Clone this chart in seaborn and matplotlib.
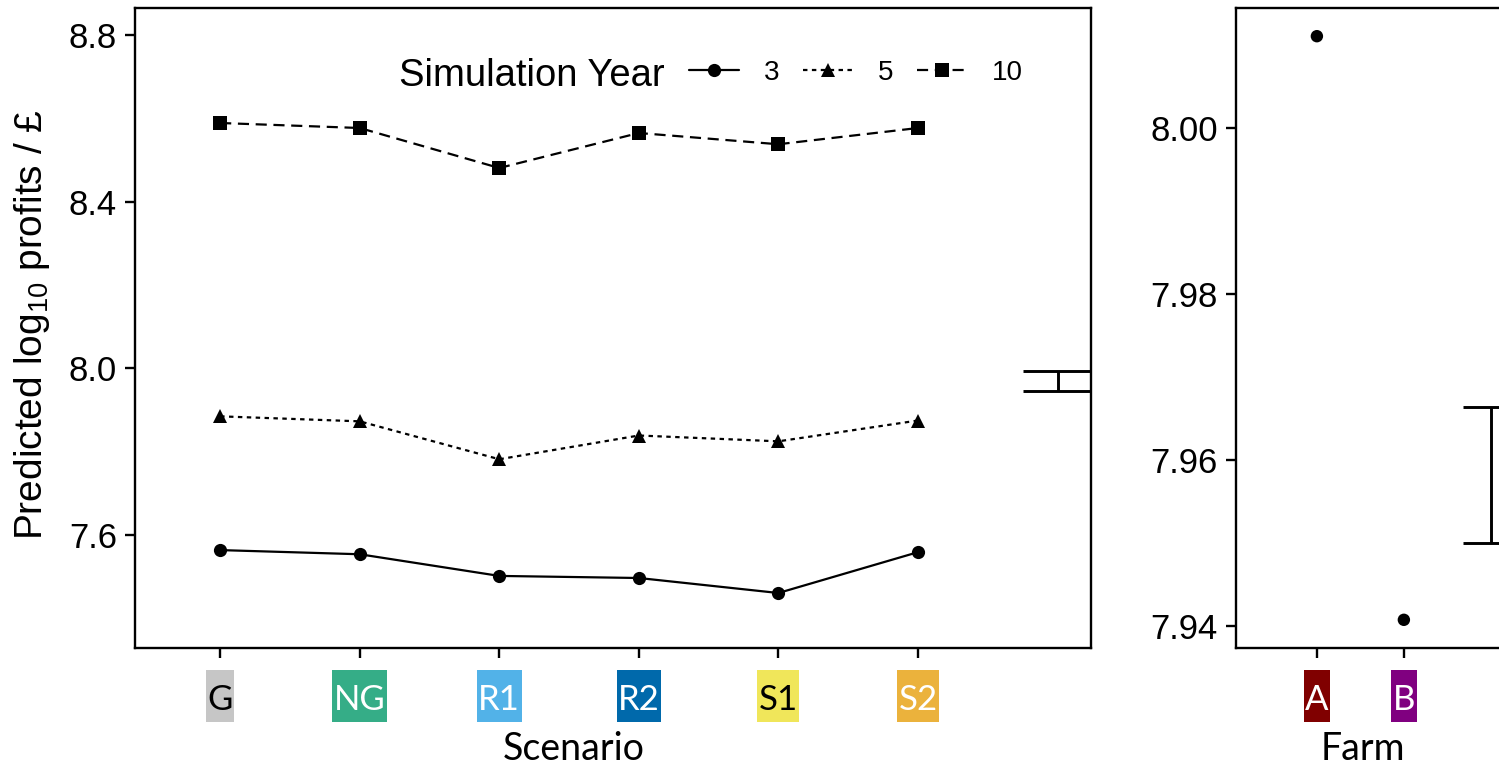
import numpy as np
import pandas as pd
import matplotlib
matplotlib.use("Agg")
import matplotlib.pyplot as plt
import seaborn as sns
from matplotlib.lines import Line2D
from matplotlib.path import Path

# Scenario panel data
scenarios = ["G", "NG", "R1", "R2", "S1", "S2"]
scenario_fill = ["#C6C6C6", "#35AD87", "#52B2E8", "#0069AB", "#F0E65A", "#EBB23C"]
scenario_ink = ["black", "white", "white", "white", "black", "white"]
years = ["3", "5", "10"]
profit_year3 = [7.564, 7.554, 7.502, 7.497, 7.461, 7.559]
profit_year5 = [7.885, 7.873, 7.782, 7.839, 7.825, 7.875]
profit_year10 = [8.589, 8.577, 8.481, 8.565, 8.538, 8.577]
scenario_err_low, scenario_err_high = 7.945, 7.995

# Farm panel data
farms = ["A", "B"]
farm_fill = ["#800000", "#800080"]
farm_ink = ["white", "white"]
farm_profit = [8.0111, 7.9407]
farm_err_low, farm_err_high = 7.950, 7.9664

sns.set_theme(style="white")
plt.rcParams["font.family"] = ["Liberation Sans", "DejaVu Sans"]
plt.rcParams["mathtext.fontset"] = "custom"
plt.rcParams["mathtext.rm"] = "Liberation Sans"
plt.rcParams["mathtext.it"] = "Liberation Sans:italic"
for key in ["text.color", "axes.labelcolor", "xtick.color", "ytick.color"]:
    plt.rcParams[key] = "black"

LABEL_FONT = ["Lato", "DejaVu Sans"]
W, H = 1499, 767
fig = plt.figure(figsize=(W / 100, H / 100), dpi=100)


def px_axes(left, right, top, bottom):
    return fig.add_axes([left / W, 1 - bottom / H, (right - left) / W, (bottom - top) / H])


ax1 = px_axes(135, 1091, 8, 648)
ax2 = px_axes(1236, 1570, 8, 648)


def tick_box(x0, y0, width, height, mutation_size):
    padx = 0.04 * mutation_size
    pad_bottom = 0.16 * mutation_size
    pad_top = 0.40 * mutation_size
    x0, x1 = x0 - padx, x0 + width + padx
    y0, y1 = y0 - pad_bottom, y0 + height + pad_top
    return Path([(x0, y0), (x1, y0), (x1, y1), (x0, y1), (x0, y0)], closed=True)


def style_axes(ax):
    for s in ax.spines.values():
        s.set_visible(True)
        s.set_color("black")
        s.set_linewidth(1.7)
    ax.tick_params(axis="both", direction="out", length=7, width=1.7, color="black",
                   bottom=True, left=True, labelsize=25, labelcolor="black")
    ax.tick_params(axis="y", pad=6)
    ax.tick_params(axis="x", pad=19)
    ax.grid(False)


def style_tick_labels(ax, fills, inks):
    for lab, bg, fg in zip(ax.get_xticklabels(), fills, inks):
        lab.set_fontfamily(LABEL_FONT)
        lab.set_fontsize(25)
        lab.set_color(fg)
        lab.set_bbox(dict(facecolor=bg, edgecolor="none", boxstyle=tick_box))


# Left panel: predicted profits per scenario and simulation year
df = pd.DataFrame({
    "pos": list(range(len(scenarios))) * 3,
    "profit": profit_year3 + profit_year5 + profit_year10,
    "year": [y for y in years for _ in scenarios],
})
markers = {"3": "o", "5": "^", "10": "s"}
dashes = {"3": "", "5": (2, 2), "10": (5, 3)}
sns.lineplot(data=df, x="pos", y="profit", style="year", style_order=years,
             markers=markers, dashes=dashes, color="black", linewidth=1.6,
             markersize=9.5, markeredgewidth=0, legend=False, ax=ax1)

ax1.errorbar([6], [(scenario_err_low + scenario_err_high) / 2],
             yerr=[(scenario_err_high - scenario_err_low) / 2],
             fmt="none", ecolor="black", elinewidth=2.1, capsize=25, capthick=2.1)

ax1.set_xlim(-0.61, 6.24)
ax1.set_ylim(7.329, 8.865)
ax1.set_yticks([7.6, 8.0, 8.4, 8.8])
ax1.set_yticklabels(["7.6", "8.0", "8.4", "8.8"])
ax1.set_xticks(range(len(scenarios)))
ax1.set_xticklabels(scenarios)
style_axes(ax1)
style_tick_labels(ax1, scenario_fill, scenario_ink)
ax1.set_xlabel("Scenario", fontfamily=LABEL_FONT, fontsize=27)
ax1.xaxis.label.set_va("baseline")
ax1.xaxis.set_label_coords((574 - 135) / (1091 - 135), (648 - 760) / 640)
ax1.set_ylabel("Predicted log$_{10}$ profits / £", fontsize=28)
ax1.yaxis.set_label_coords((52 - 135) / (1091 - 135), 0.505)

# Legend with the title to its left
fig.text(399 / W, 1 - 86 / H, "Simulation Year", fontsize=27.5, ha="left", va="baseline")
handles = []
for y in years:
    h = Line2D([], [], color="black", marker=markers[y], linewidth=1.6,
               markersize=9.5, markeredgewidth=0)
    if y == "3":
        h.set_linestyle("-")
    else:
        h.set_linestyle((0, dashes[y]))
    handles.append(h)
ax1.legend(handles, years, ncol=3, loc="center left",
           bbox_to_anchor=(689 / W, 1 - 73 / H), bbox_transform=fig.transFigure,
           frameon=False, fontsize=20, handlelength=1.8, handletextpad=0.9,
           columnspacing=0.85, borderpad=0, borderaxespad=0)

# Right panel: predicted profits per farm
farm_df = pd.DataFrame({"pos": list(range(len(farms))), "profit": farm_profit})
sns.scatterplot(data=farm_df, x="pos", y="profit", color="black", s=80,
                edgecolor="none", ax=ax2)
ax2.errorbar([2], [(farm_err_low + farm_err_high) / 2],
             yerr=[(farm_err_high - farm_err_low) / 2],
             fmt="none", ecolor="black", elinewidth=2.1, capsize=20, capthick=2.1)
ax2.set_xlim(-0.93, 2.91)
ax2.set_ylim(7.9373, 8.0145)
ax2.set_yticks([7.94, 7.96, 7.98, 8.00])
ax2.set_yticklabels(["7.94", "7.96", "7.98", "8.00"])
ax2.set_xticks(range(len(farms)))
ax2.set_xticklabels(farms)
style_axes(ax2)
style_tick_labels(ax2, farm_fill, farm_ink)
ax2.set_xlabel("Farm", fontfamily=LABEL_FONT, fontsize=27)
ax2.xaxis.label.set_va("baseline")
ax2.xaxis.set_label_coords((1363 - 1236) / (1570 - 1236), (648 - 760) / 640)
ax2.set_ylabel("")

fig.savefig("out.png", dpi=100)
